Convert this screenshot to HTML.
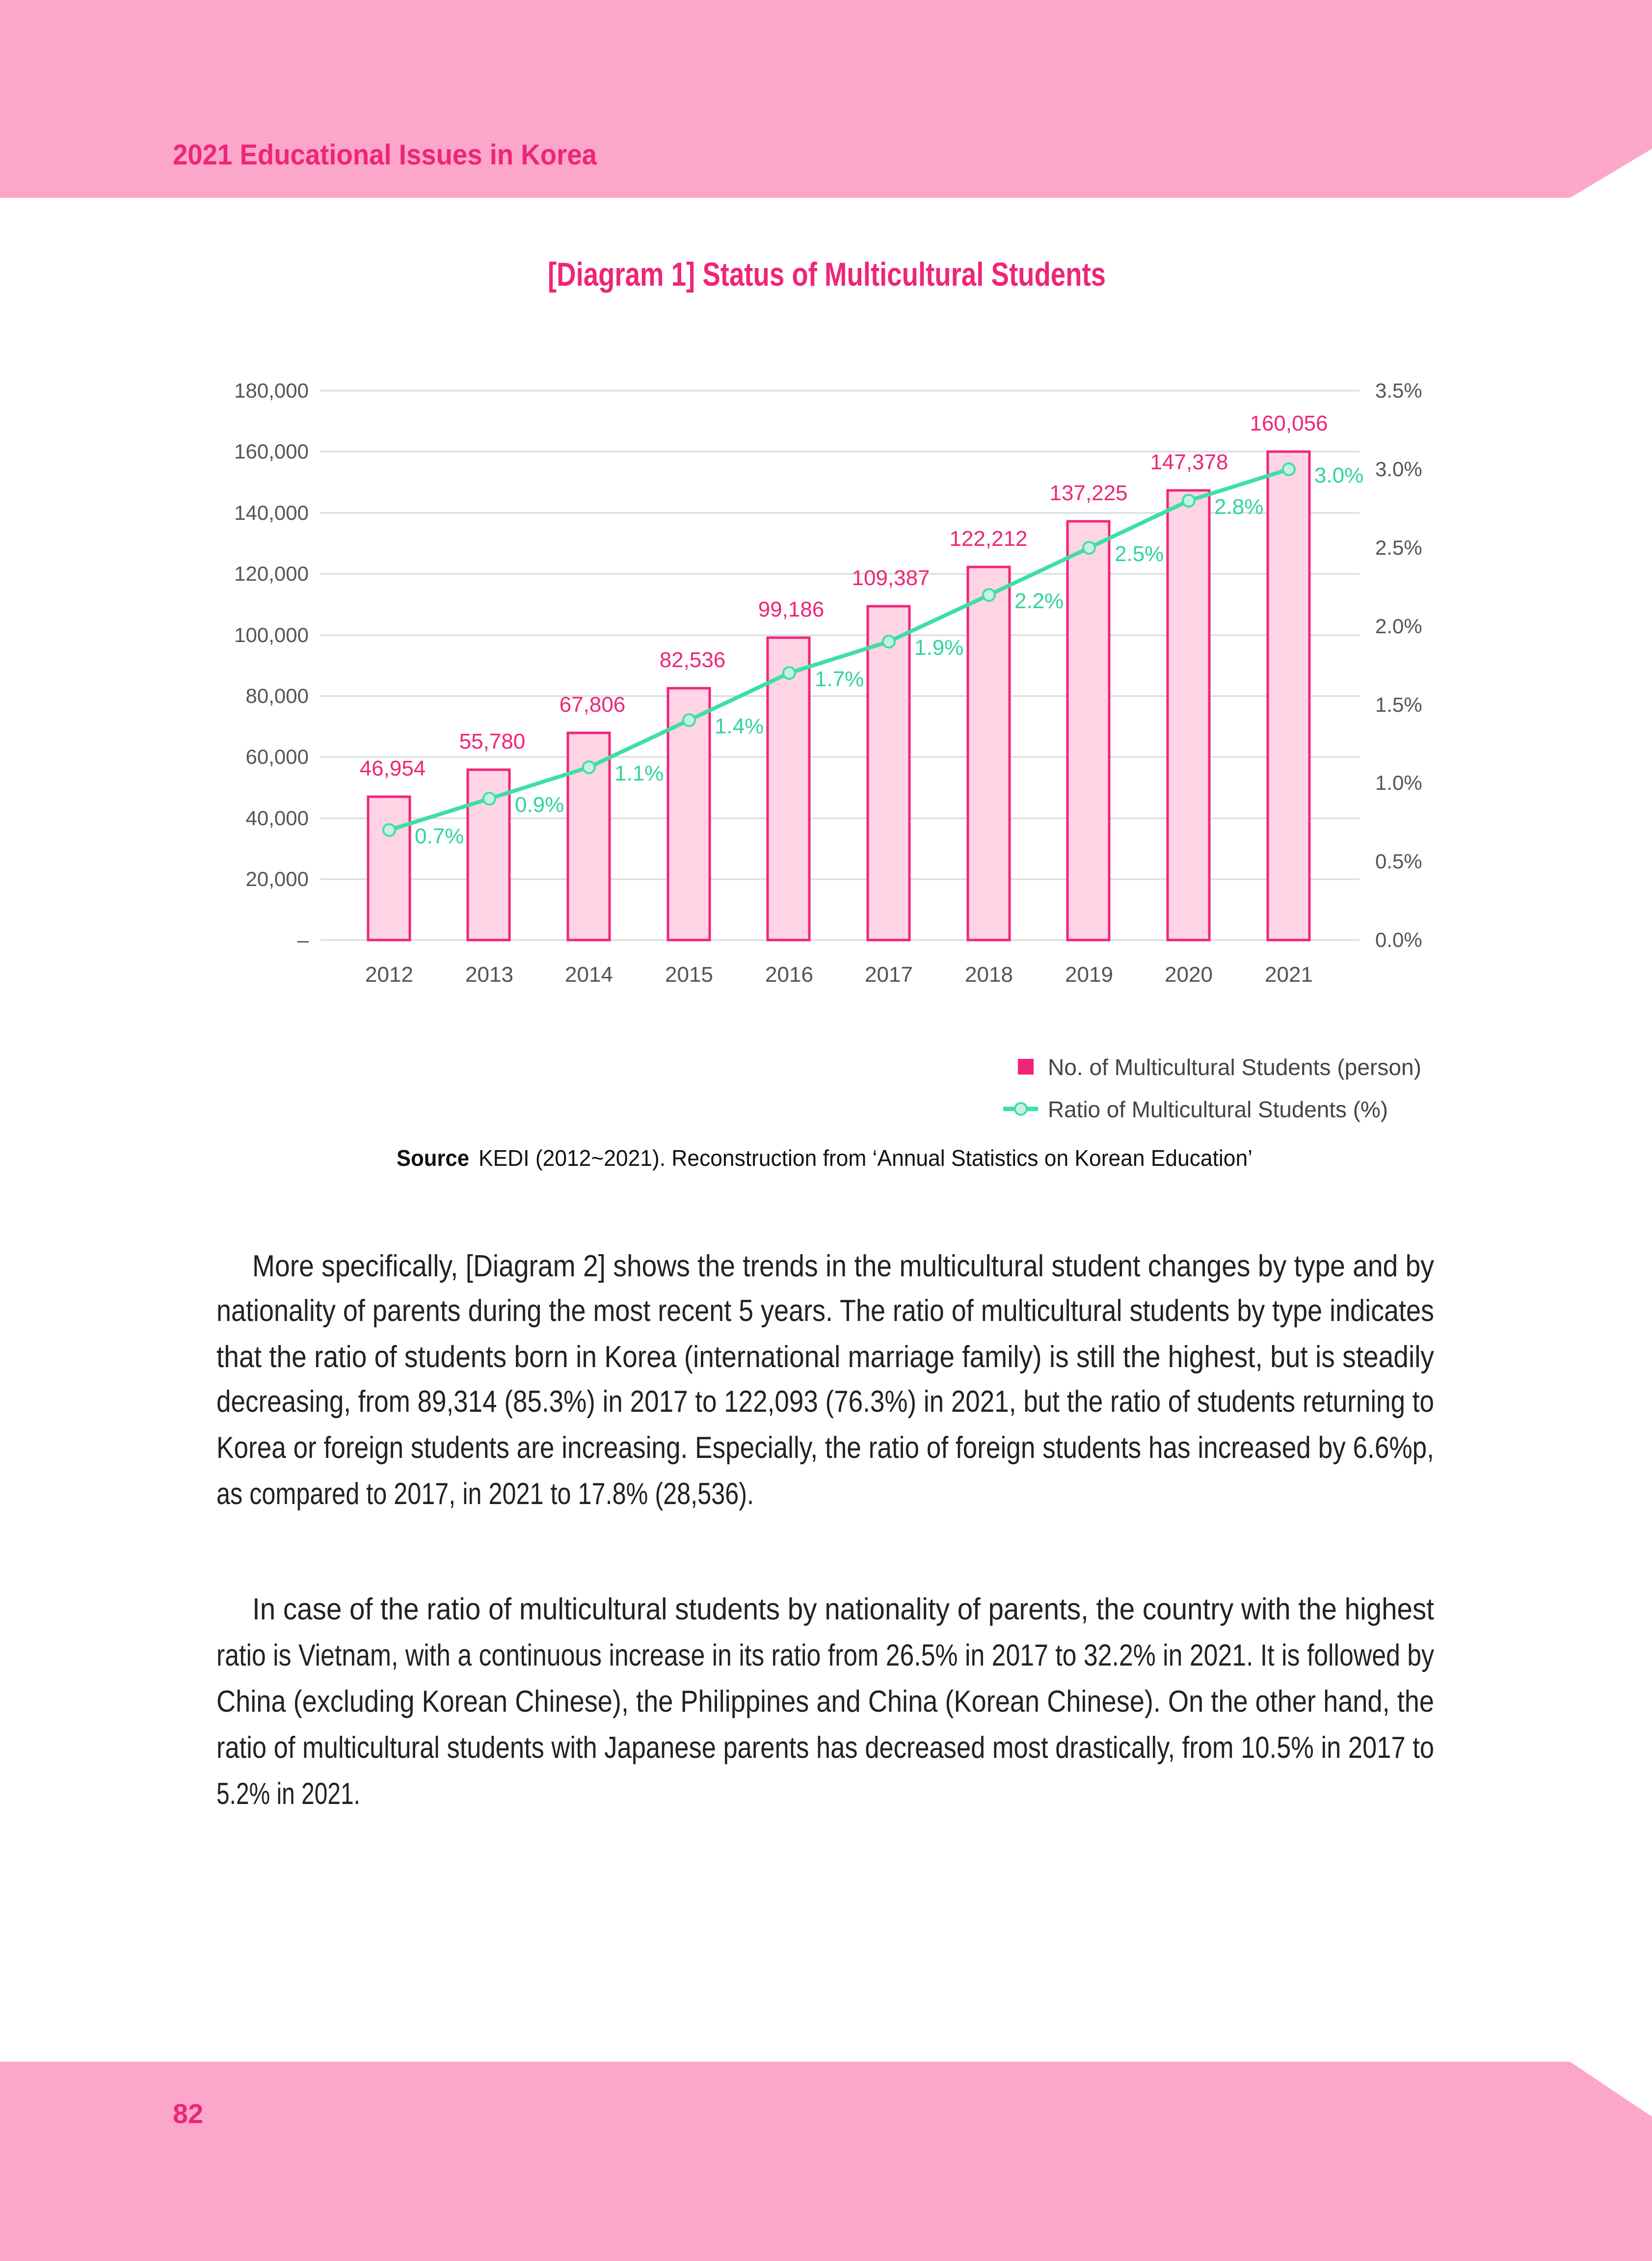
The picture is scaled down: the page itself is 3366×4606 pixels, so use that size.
<!DOCTYPE html>
<html><head><meta charset="utf-8"><style>html,body{margin:0;padding:0;background:#fff}svg{display:block}</style></head>
<body>
<svg xmlns="http://www.w3.org/2000/svg" width="3366" height="4606" viewBox="0 0 3366 4606" font-family="'Liberation Sans', sans-serif">
<rect x="0" y="0" width="3366" height="403" fill="#fca6ca"/>
<polygon points="3199,403 3366,303 3366,403" fill="#fff"/>
<text x="352" y="335" font-size="58" font-weight="bold" fill="#ee2578" textLength="864" lengthAdjust="spacingAndGlyphs">2021 Educational Issues in Korea</text>
<text x="1116" y="582" font-size="68" font-weight="bold" fill="#ee2578" textLength="1137" lengthAdjust="spacingAndGlyphs">[Diagram 1] Status of Multicultural Students</text>

<g stroke="#d6dcda" stroke-width="3">
<line x1="652" y1="796" x2="2770" y2="796"/><line x1="652" y1="920" x2="2770" y2="920"/>
<line x1="652" y1="1045" x2="2770" y2="1045"/><line x1="652" y1="1169" x2="2770" y2="1169"/>
<line x1="652" y1="1294" x2="2770" y2="1294"/><line x1="652" y1="1418" x2="2770" y2="1418"/>
<line x1="652" y1="1542" x2="2770" y2="1542"/><line x1="652" y1="1667" x2="2770" y2="1667"/>
<line x1="652" y1="1791" x2="2770" y2="1791"/><line x1="652" y1="1915" x2="2770" y2="1915"/>
</g>
<g font-size="42" fill="#555" text-anchor="end">
<text x="629" y="810">180,000</text><text x="629" y="934">160,000</text><text x="629" y="1059">140,000</text>
<text x="629" y="1183">120,000</text><text x="629" y="1308">100,000</text><text x="629" y="1432">80,000</text>
<text x="629" y="1556">60,000</text><text x="629" y="1681">40,000</text><text x="629" y="1805">20,000</text>
<text x="629" y="1929">–</text>
</g>
<g font-size="42" fill="#555">
<text x="2802" y="810">3.5%</text><text x="2802" y="970">3.0%</text><text x="2802" y="1130">2.5%</text>
<text x="2802" y="1290">2.0%</text><text x="2802" y="1450">1.5%</text><text x="2802" y="1609">1.0%</text>
<text x="2802" y="1769">0.5%</text><text x="2802" y="1929">0.0%</text>
</g>
<g fill="#ffd4e5" stroke="#f0257a" stroke-width="5">
<rect x="750" y="1623" width="85" height="292"/>
<rect x="953" y="1568" width="85" height="347"/>
<rect x="1157" y="1493" width="85" height="422"/>
<rect x="1361" y="1402" width="85" height="513"/>
<rect x="1564" y="1299" width="85" height="616"/>
<rect x="1768" y="1235" width="85" height="680"/>
<rect x="1972" y="1155" width="85" height="760"/>
<rect x="2175" y="1062" width="85" height="853"/>
<rect x="2379" y="999" width="85" height="916"/>
<rect x="2583" y="920" width="85" height="995"/>
</g>
<g font-size="44" fill="#ee2578" text-anchor="middle">
<text x="800" y="1580">46,954</text><text x="1003" y="1525">55,780</text><text x="1207" y="1450">67,806</text>
<text x="1411" y="1359">82,536</text><text x="1612" y="1256">99,186</text><text x="1815" y="1192">109,387</text>
<text x="2014" y="1112">122,212</text><text x="2218" y="1019">137,225</text><text x="2423" y="956">147,378</text>
<text x="2626" y="877">160,056</text>
</g>
<g font-size="44" fill="#c9c9c9" text-anchor="middle">
<text x="793" y="2000">2012</text><text x="997" y="2000">2013</text><text x="1200" y="2000">2014</text>
<text x="1404" y="2000">2015</text><text x="1608" y="2000">2016</text><text x="1811" y="2000">2017</text>
<text x="2015" y="2000">2018</text><text x="2219" y="2000">2019</text><text x="2422" y="2000">2020</text>
<text x="2626" y="2000">2021</text>
</g>
<g font-size="44" fill="#555" text-anchor="middle">
<text x="793" y="2000">2012</text><text x="997" y="2000">2013</text><text x="1200" y="2000">2014</text>
<text x="1404" y="2000">2015</text><text x="1608" y="2000">2016</text><text x="1811" y="2000">2017</text>
<text x="2015" y="2000">2018</text><text x="2219" y="2000">2019</text><text x="2422" y="2000">2020</text>
<text x="2626" y="2000">2021</text>
</g>
<polyline fill="none" stroke="#3ddfa6" stroke-width="8" points="793,1691 997,1627 1200,1563 1404,1467 1608,1371 1811,1307 2015,1212 2219,1116 2422,1020 2626,956"/>
<g fill="#c9f1e1" stroke="#3ddfa6" stroke-width="4">
<circle cx="793" cy="1691" r="12"/><circle cx="997" cy="1627" r="12"/><circle cx="1200" cy="1563" r="12"/>
<circle cx="1404" cy="1467" r="12"/><circle cx="1608" cy="1371" r="12"/><circle cx="1811" cy="1307" r="12"/>
<circle cx="2015" cy="1212" r="12"/><circle cx="2219" cy="1116" r="12"/><circle cx="2422" cy="1020" r="12"/>
<circle cx="2626" cy="956" r="12"/>
</g>
<g font-size="44" fill="#2fd49c">
<text x="845" y="1718">0.7%</text><text x="1049" y="1654">0.9%</text><text x="1252" y="1590">1.1%</text>
<text x="1456" y="1494">1.4%</text><text x="1660" y="1398">1.7%</text><text x="1863" y="1334">1.9%</text>
<text x="2067" y="1239">2.2%</text><text x="2271" y="1143">2.5%</text><text x="2474" y="1047">2.8%</text>
<text x="2678" y="983">3.0%</text>
</g>

<rect x="2074" y="2157" width="32" height="32" fill="#f0257a"/>
<text x="2135" y="2190" font-size="46" fill="#444" textLength="761" lengthAdjust="spacingAndGlyphs">No. of Multicultural Students (person)</text>
<line x1="2044" y1="2259" x2="2115" y2="2259" stroke="#3ddfa6" stroke-width="9"/>
<circle cx="2080" cy="2259" r="12" fill="#c9f1e1" stroke="#3ddfa6" stroke-width="4"/>
<text x="2135" y="2276" font-size="46" fill="#444" textLength="693" lengthAdjust="spacingAndGlyphs">Ratio of Multicultural Students (%)</text>
<text x="808" y="2375" font-size="46" fill="#111" font-weight="bold" textLength="148" lengthAdjust="spacingAndGlyphs">Source</text>
<text x="975" y="2375" font-size="46" fill="#111" textLength="1577" lengthAdjust="spacingAndGlyphs">KEDI (2012~2021). Reconstruction from ‘Annual Statistics on Korean Education’</text>

<g font-size="62" fill="#222" lengthAdjust="spacingAndGlyphs">
<text x="514" y="2600" textLength="2408" lengthAdjust="spacingAndGlyphs">More specifically, [Diagram 2] shows the trends in the multicultural student changes by type and by</text>
<text x="441" y="2691" textLength="2481" lengthAdjust="spacingAndGlyphs">nationality of parents during the most recent 5 years. The ratio of multicultural students by type indicates</text>
<text x="441" y="2785" textLength="2481" lengthAdjust="spacingAndGlyphs">that the ratio of students born in Korea (international marriage family) is still the highest, but is steadily</text>
<text x="441" y="2876" textLength="2481" lengthAdjust="spacingAndGlyphs">decreasing, from 89,314 (85.3%) in 2017 to 122,093 (76.3%) in 2021, but the ratio of students returning to</text>
<text x="441" y="2970" textLength="2481" lengthAdjust="spacingAndGlyphs">Korea or foreign students are increasing. Especially, the ratio of foreign students has increased by 6.6%p,</text>
<text x="441" y="3064" textLength="1095" lengthAdjust="spacingAndGlyphs">as compared to 2017, in 2021 to 17.8% (28,536).</text>
<text x="514" y="3299" textLength="2408" lengthAdjust="spacingAndGlyphs">In case of the ratio of multicultural students by nationality of parents, the country with the highest</text>
<text x="441" y="3393" textLength="2481" lengthAdjust="spacingAndGlyphs">ratio is Vietnam, with a continuous increase in its ratio from 26.5% in 2017 to 32.2% in 2021. It is followed by</text>
<text x="441" y="3487" textLength="2481" lengthAdjust="spacingAndGlyphs">China (excluding Korean Chinese), the Philippines and China (Korean Chinese). On the other hand, the</text>
<text x="441" y="3581" textLength="2481" lengthAdjust="spacingAndGlyphs">ratio of multicultural students with Japanese parents has decreased most drastically, from 10.5% in 2017 to</text>
<text x="441" y="3675" textLength="293" lengthAdjust="spacingAndGlyphs">5.2% in 2021.</text>
</g>

<rect x="0" y="4200" width="3366" height="406" fill="#fca6ca"/>
<polygon points="3199,4200 3366,4200 3366,4312" fill="#fff"/>
<text x="352" y="4325" font-size="56" font-weight="bold" fill="#ee2578">82</text>
</svg>
</body></html>
